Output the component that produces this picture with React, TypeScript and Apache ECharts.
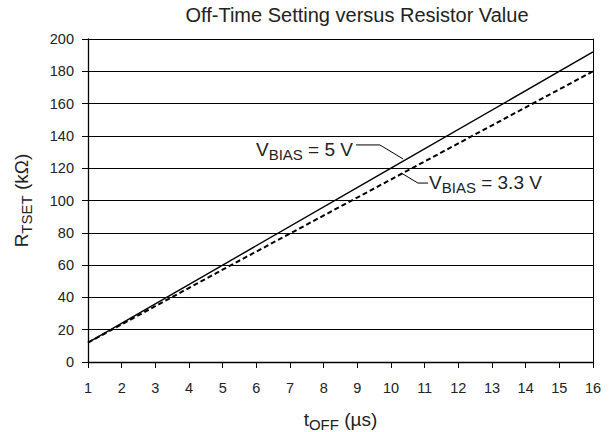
import React, { useEffect, useRef } from "react";
import * as echarts from "echarts";

// Axis ranges / ticks
const xMin = 1;
const xMax = 16;
const xInterval = 1;
const yMin = 0;
const yMax = 200;
const yInterval = 20;

// VBIAS = 5 V (solid)
const tOff5V = [1, 5, 10, 16];
const rTset5V = [12, 60, 120, 192];

// VBIAS = 3.3 V (dashed)
const tOff3V3 = [1, 5.25, 16];
const rTset3V3 = [12, 60, 180];

// annotation leader lines (data coordinates)
const leader5VX = [8.96, 9.67, 10.36];
const leader5VY = [134.4, 134.4, 125.7];
const leader3V3X = [10.33, 10.8, 11.1];
const leader3V3Y = [116.7, 110.8, 110.8];

const titleText = "Off-Time Setting versus Resistor Value";

const FONT = "'Liberation Sans', Arial, Helvetica, sans-serif";
const TXT = "#222";

const zip = (xs: number[], ys: number[]) => xs.map((x, i) => [x, ys[i]]);

export default function App() {
  const ref = useRef<HTMLDivElement>(null);
  useEffect(() => {
    if (!ref.current) return;
    const chart = echarts.init(ref.current, null, { renderer: "svg" });
    const rich = {
      n: { fontSize: 19, fontFamily: FONT, color: TXT },
      s: { fontSize: 15, fontFamily: FONT, color: TXT, padding: [10, 0, 0, 0] },
    };
    chart.setOption({
      animation: false,
      grid: { left: 88, right: 17, top: 39, bottom: 70, containLabel: false, outerBoundsMode: "none" },
      xAxis: {
        type: "value",
        min: xMin,
        max: xMax,
        interval: xInterval,
        axisLine: { lineStyle: { color: "#000", width: 1.3 } },
        axisTick: { length: 6, lineStyle: { color: "#000", width: 1 } },
        axisLabel: { fontSize: 14.5, color: TXT, margin: 18, fontFamily: FONT },
        splitLine: { show: false },
        name: "{n|t}{s|OFF}{n| (µs)}",
        nameLocation: "middle",
        nameGap: 45,
        nameTextStyle: { fontFamily: FONT, color: TXT, rich },
      },
      yAxis: [
        {
          type: "value",
          min: yMin,
          max: yMax,
          interval: yInterval,
          axisLine: { show: true, lineStyle: { color: "#000", width: 1.3 } },
          axisTick: { show: true, length: 6, lineStyle: { color: "#000", width: 1 } },
          axisLabel: { fontSize: 14.5, color: TXT, margin: 14, fontFamily: FONT },
          splitLine: { show: true, lineStyle: { color: "#000", width: 1 } },
          name: "{n|R}{s|TSET}{n| (kΩ)}",
          nameLocation: "middle",
          nameGap: 54,
          nameTextStyle: { fontFamily: FONT, color: TXT, rich },
        },
        {
          type: "value",
          min: yMin,
          max: yMax,
          interval: yInterval,
          position: "right",
          axisLine: { show: true, lineStyle: { color: "#000", width: 1 } },
          axisTick: { show: false },
          axisLabel: { show: false },
          splitLine: { show: false },
        },
      ],
      series: [
        {
          type: "line",
          name: "5 V",
          data: zip(tOff5V, rTset5V),
          symbol: "none",
          lineStyle: { color: "#000", width: 1.4 },
          silent: true,
        },
        {
          type: "line",
          name: "3.3 V",
          data: zip(tOff3V3, rTset3V3),
          symbol: "none",
          lineStyle: { color: "#000", width: 2, type: [5, 3] },
          silent: true,
        },
        {
          type: "line",
          data: zip(leader5VX, leader5VY),
          symbol: "none",
          lineStyle: { color: "#000", width: 1 },
          silent: true,
        },
        {
          type: "line",
          data: zip(leader3V3X, leader3V3Y),
          symbol: "none",
          lineStyle: { color: "#000", width: 1 },
          silent: true,
        },
      ],
    });

    const a5 = chart.convertToPixel({ gridIndex: 0 }, [leader5VX[0], leader5VY[0]]) as number[];
    const a33 = chart.convertToPixel({ gridIndex: 0 }, [leader3V3X[2], leader3V3Y[2]]) as number[];

    chart.setOption({
      graphic: [
        {
          type: "text",
          x: 357,
          y: 15,
          style: {
            text: titleText,
            fontSize: 20,
            fontFamily: FONT,
            fill: TXT,
            align: "center",
            verticalAlign: "middle",
          },
        },
        {
          type: "text",
          x: a5[0] - 3,
          y: a5[1] + 5,
          style: {
            text: "{n|V}{s|BIAS}{n| = 5 V}",
            rich,
            fill: TXT,
            align: "right",
            verticalAlign: "middle",
          },
        },
        {
          type: "text",
          x: a33[0] + 1,
          y: a33[1] - 1,
          style: {
            text: "{n|V}{s|BIAS}{n| = 3.3 V}",
            rich,
            fill: TXT,
            align: "left",
            verticalAlign: "middle",
          },
        },
      ],
    });

    return () => chart.dispose();
  }, []);
  return <div ref={ref} style={{ width: 610, height: 432, position: "absolute", left: 0, top: 0 }} />;
}
